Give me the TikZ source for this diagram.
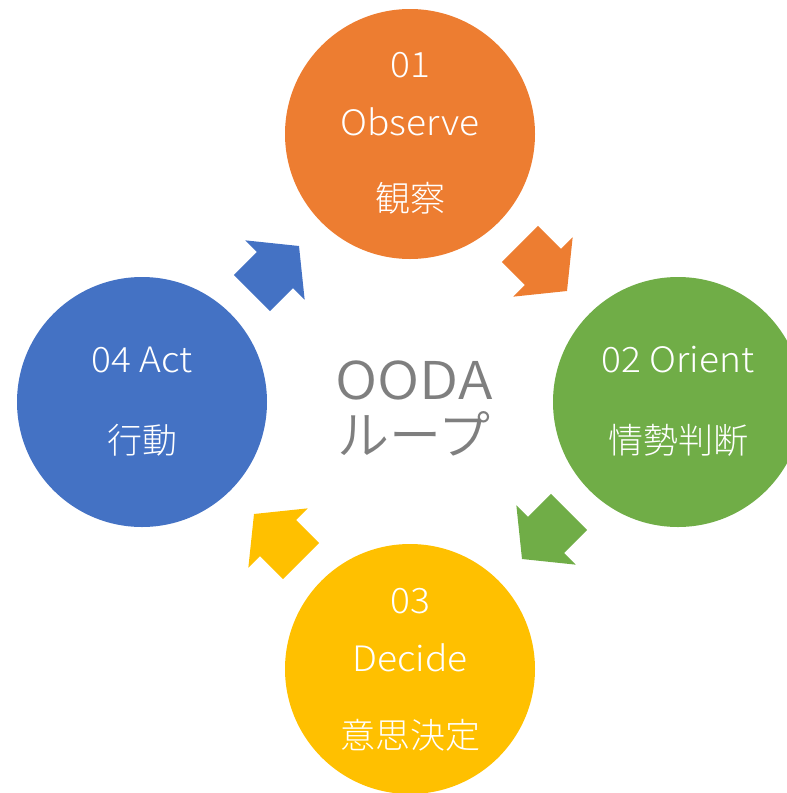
\documentclass[tikz,border=0pt]{standalone}
\usepackage{fontspec}
\IfFontExistsTF{Noto Sans CJK JP Light}
  {\setmainfont{Noto Sans CJK JP Light}}
  {\IfFontExistsTF{Noto Sans CJK JP DemiLight}
    {\setmainfont{Noto Sans CJK JP DemiLight}}
    {\setmainfont{Noto Sans CJK JP}}}
\IfFontExistsTF{Noto Sans CJK JP DemiLight}
  {\newfontfamily\titlefont{Noto Sans CJK JP DemiLight}}
  {\newfontfamily\titlefont{Noto Sans CJK JP}}
\definecolor{obsorange}{HTML}{ED7D31}
\definecolor{origreen}{HTML}{70AD47}
\definecolor{decyellow}{HTML}{FFC000}
\definecolor{actblue}{HTML}{4472C4}
\definecolor{loopgray}{HTML}{7F7F7F}
\tikzset{
  phase/.style={circle, inner sep=0pt, minimum size=250pt},
  label/.style={text=white, inner sep=0pt, font=\fontsize{35}{40}\selectfont},
  title/.style={text=loopgray, inner sep=0pt, font=\titlefont\fontsize{52}{58}\selectfont},
}
% block arrow with its tip at the scope origin, pointing along +x
\newcommand{\blockarrow}[3]{%
  \begin{scope}[shift={(#1)}, rotate=#2]
    \fill[#3] (0,0) -- (-34,42) -- (-34,25.5) -- (-66.5,25.5)
      -- (-66.5,-25.5) -- (-34,-25.5) -- (-34,-42) -- cycle;
  \end{scope}}
\begin{document}
\begin{tikzpicture}[x=1pt, y=-1pt]
  \useasboundingbox (0,0) rectangle (787,793);
  \begin{scope}
    \clip (0,0) rectangle (787,793);
    % four phases of the loop
    \node[phase, fill=obsorange] (obs) at (410,134) {};
    \node[phase, fill=origreen]  (ori) at (678,402) {};
    \node[phase, fill=decyellow] (dec) at (410,669) {};
    \node[phase, fill=actblue]   (act) at (142,402) {};

    \node[label, xscale=1.06] (obsnum) at (410,65)  {01};
    \node[label, xscale=1.06] (obsen)  at (410,122) {Observe};
    \node[label] (obsja)  at (410,198) {観察};

    \node[label, xscale=1.06] (orien) at (678,360) {02 Orient};
    \node[label] (orija) at (678,440) {情勢判断};

    \node[label, xscale=1.06] (decnum) at (410,601) {03};
    \node[label, xscale=1.06] (decen)  at (410,658) {Decide};
    \node[label] (decja)  at (410,735) {意思決定};

    \node[label, xscale=1.06] (acten) at (142,360) {04 Act};
    \node[label] (actja) at (142,440) {行動};

    % loop title in the middle
    \node[title, xscale=1.1] (ooda)  at (414,380) {OODA};
    \node[title] (loopj) at (414,434) {ループ};

    % arrows between the phases
    \blockarrow{567,291}{-45}{obsorange}
    \blockarrow{522,559}{-135}{origreen}
    \blockarrow{254,514}{135}{decyellow}
    \blockarrow{299,246}{45}{actblue}
  \end{scope}
\end{tikzpicture}
\end{document}
